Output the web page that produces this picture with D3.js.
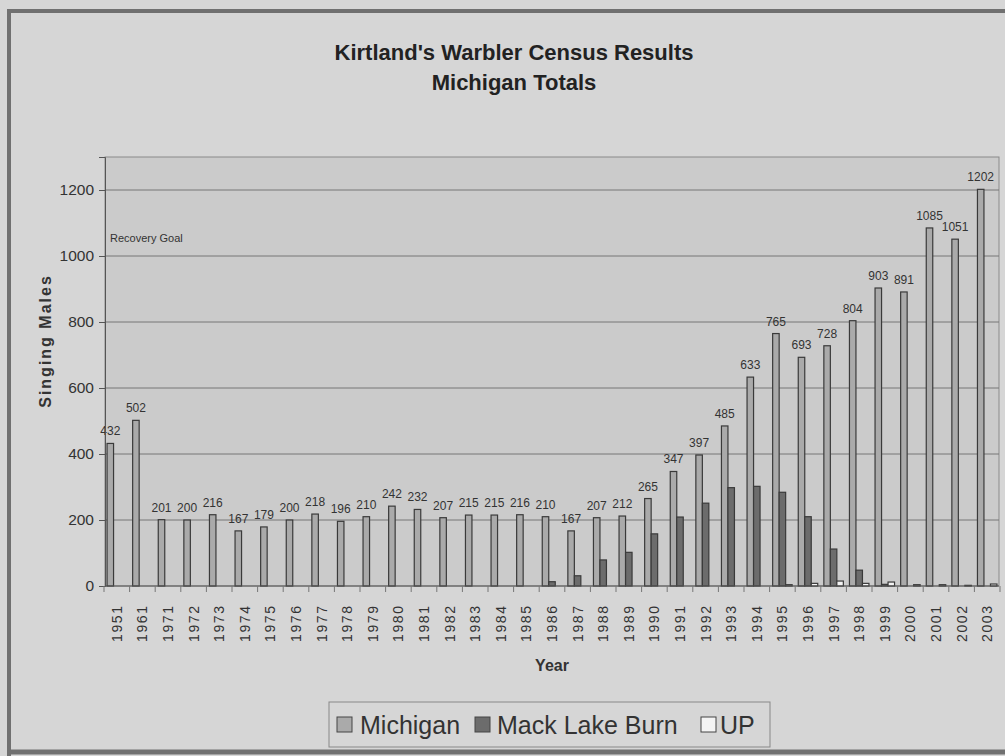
<!DOCTYPE html>
<html>
<head>
<meta charset="utf-8">
<script src="https://cdn.jsdelivr.net/npm/d3@7"></script>
<style>
  body { margin: 0; background: #d5d5d5; }
  svg { display: block; font-family: "Liberation Sans", Arial, sans-serif; }
</style>
</head>
<body>
<div id="chart"></div>
<script>
// census data
const years = ["1951", "1961", "1971", "1972", "1973", "1974", "1975", "1976", "1977", "1978",
  "1979", "1980", "1981", "1982", "1983", "1984", "1985", "1986", "1987", "1988", "1989",
  "1990", "1991", "1992", "1993", "1994", "1995", "1996", "1997", "1998", "1999", "2000",
  "2001", "2002", "2003"];
const michigan = [432, 502, 201, 200, 216, 167, 179, 200, 218, 196, 210, 242, 232, 207, 215,
  215, 216, 210, 167, 207, 212, 265, 347, 397, 485, 633, 765, 693, 728, 804, 903, 891, 1085,
  1051, 1202];
const mackLake = [0, 0, 0, 0, 0, 0, 0, 0, 0, 0, 0, 0, 0, 0, 0, 0, 0, 13, 31, 79, 102, 158, 209,
  251, 298, 302, 284, 210, 112, 48, 5, 0, 0, 0, 0];
const up = [0, 0, 0, 0, 0, 0, 0, 0, 0, 0, 0, 0, 0, 0, 0, 0, 0, 0, 0, 0, 0, 0, 0, 0, 0, 0, 4,
  8, 15, 8, 12, 4, 4, 2, 6];
const seriesNames = ["Michigan", "Mack Lake Burn", "UP"];
const yTicks = [0, 200, 400, 600, 800, 1000, 1200];

const W = 1005, H = 756;
const plot = { left: 105, right: 999, top: 157, bottom: 586 };
const fills = { "Michigan": "#aaaaaa", "Mack Lake Burn": "#6c6c6c", "UP": "#f4f4f4" };

const svg = d3.select("#chart").append("svg").attr("width", W).attr("height", H);

// outer frame
svg.append("rect").attr("width", W).attr("height", H).attr("fill", "#d6d6d6");
svg.append("path").attr("d", `M9,${H} V11 H${W}`).attr("fill", "none")
  .attr("stroke", "#707070").attr("stroke-width", 4);
svg.append("line").attr("x1", 7).attr("x2", W).attr("y1", 752).attr("y2", 752)
  .attr("stroke", "#707070").attr("stroke-width", 5);

// title
svg.append("text").attr("x", 514).attr("y", 60).attr("text-anchor", "middle")
  .attr("font-size", 22).attr("font-weight", "bold").attr("fill", "#222")
  .text("Kirtland's Warbler Census Results");
svg.append("text").attr("x", 514).attr("y", 90).attr("text-anchor", "middle")
  .attr("font-size", 22).attr("font-weight", "bold").attr("fill", "#222")
  .text("Michigan Totals");

const x = d3.scaleBand().domain(years).range([plot.left - 1, plot.right + 1]);
const xs = d3.scaleBand().domain(seriesNames).range([0, x.bandwidth()]).paddingOuter(0.47);
const y = d3.scaleLinear().domain([0, 1300]).range([plot.bottom, plot.top]);

// plot area
svg.append("rect").attr("x", plot.left).attr("y", plot.top)
  .attr("width", plot.right - plot.left).attr("height", plot.bottom - plot.top)
  .attr("fill", "#cbcbcb").attr("stroke", "#8a8a8a");

svg.append("g").selectAll("line").data(yTicks.slice(1)).join("line")
  .attr("x1", plot.left).attr("x2", plot.right)
  .attr("y1", d => y(d)).attr("y2", d => y(d))
  .attr("stroke", "#777").attr("stroke-width", 1);

svg.append("text").attr("x", 110).attr("y", 242).attr("font-size", 11).attr("fill", "#333")
  .text("Recovery Goal");

// bars
const rows = years.map((yr, i) => ({ year: yr, "Michigan": michigan[i], "Mack Lake Burn": mackLake[i], "UP": up[i] }));
const groups = svg.append("g").selectAll("g").data(rows).join("g")
  .attr("transform", d => `translate(${x(d.year)},0)`);
groups.selectAll("rect").data(d => seriesNames.map(s => ({ s, v: d[s] })).filter(e => e.v > 0)).join("rect")
  .attr("x", e => xs(e.s)).attr("width", xs.bandwidth())
  .attr("y", e => y(e.v)).attr("height", e => plot.bottom - y(e.v))
  .attr("fill", e => fills[e.s]).attr("stroke", "#3a3a3a").attr("stroke-width", 1.2);

// value labels above the Michigan bars
groups.append("text")
  .attr("x", xs("Michigan") + xs.bandwidth() / 2)
  .attr("y", d => y(d["Michigan"]) - 8)
  .attr("text-anchor", "middle").attr("font-size", 12).attr("fill", "#333")
  .text(d => d["Michigan"]);

// axes
const yAxis = svg.append("g").attr("transform", `translate(${plot.left},0)`)
  .call(d3.axisLeft(y).tickValues(yTicks).tickFormat(d3.format("d")).tickSize(6).tickPadding(5));
yAxis.select(".domain").attr("stroke", "#555");
yAxis.selectAll(".tick line").attr("stroke", "#555");
yAxis.selectAll("text").attr("font-size", 15.5).attr("fill", "#333")
  .attr("font-family", "Liberation Sans, Arial, sans-serif");

const xAxis = svg.append("g").attr("transform", `translate(0,${plot.bottom})`);
xAxis.append("line").attr("x1", plot.left).attr("x2", plot.right).attr("stroke", "#555");
xAxis.selectAll("line.tk").data(years.concat(["end"])).join("line").attr("class", "tk")
  .attr("x1", (d, i) => x.range()[0] + i * x.step()).attr("x2", (d, i) => x.range()[0] + i * x.step())
  .attr("y1", 0).attr("y2", 6).attr("stroke", "#777");
xAxis.selectAll("text").data(years).join("text")
  .attr("transform", d => `translate(${x(d) + x.bandwidth() / 2 + 5},${56}) rotate(-90)`)
  .attr("font-size", 14).attr("letter-spacing", 1.6).attr("fill", "#333")
  .text(d => d);

// axis titles
svg.append("text").attr("transform", "translate(51,341) rotate(-90)")
  .attr("text-anchor", "middle").attr("font-size", 16).attr("font-weight", "bold")
  .attr("letter-spacing", 2).attr("fill", "#333").text("Singing Males");
svg.append("text").attr("x", 552).attr("y", 671).attr("text-anchor", "middle")
  .attr("font-size", 16).attr("font-weight", "bold").attr("fill", "#333").text("Year");

// legend
const lg = svg.append("g");
lg.append("rect").attr("x", 329).attr("y", 702).attr("width", 441).attr("height", 45)
  .attr("fill", "none").attr("stroke", "#888");
const legendItems = [
  { s: "Michigan", sx: 337, tx: 360 },
  { s: "Mack Lake Burn", sx: 475, tx: 497 },
  { s: "UP", sx: 701, tx: 720 }
];
lg.selectAll("rect.sw").data(legendItems).join("rect").attr("class", "sw")
  .attr("x", d => d.sx).attr("y", 717).attr("width", 15).attr("height", 15)
  .attr("fill", d => fills[d.s]).attr("stroke", "#444");
lg.selectAll("text").data(legendItems).join("text")
  .attr("x", d => d.tx).attr("y", 734).attr("font-size", 25).attr("fill", "#333")
  .text(d => d.s);
</script>
</body>
</html>
